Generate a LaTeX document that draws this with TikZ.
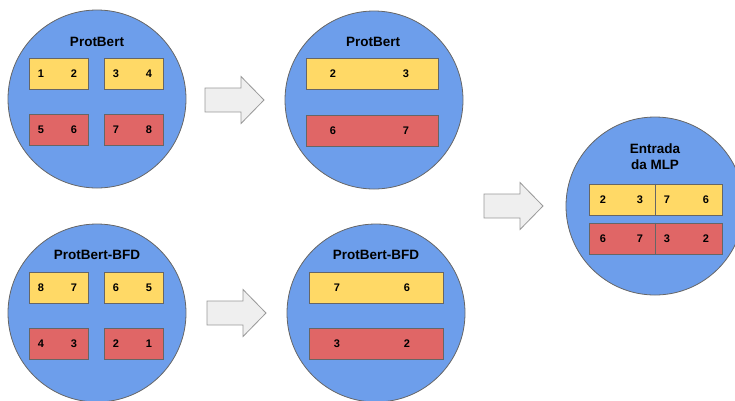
\documentclass[tikz,border=0pt]{standalone}
\usepackage{fontspec}
\setmainfont{Liberation Sans}
\definecolor{cblue}{HTML}{6D9EEB}
\definecolor{cyel}{HTML}{FFD966}
\definecolor{cred}{HTML}{E06666}
\definecolor{carrow}{HTML}{EFEFEF}
\definecolor{cedge}{HTML}{666666}
\begin{document}
\begin{tikzpicture}[x=1pt,y=-1pt,
  bubble/.style={circle,draw=cedge,line width=0.8pt,fill=cblue,minimum size=178pt,inner sep=0pt},
  ybox/.style={rectangle,draw=cedge,line width=0.9pt,fill=cyel,inner sep=0pt},
  rbox/.style={rectangle,draw=cedge,line width=0.9pt,fill=cred,inner sep=0pt},
  smallbox/.style={minimum width=59pt,minimum height=31pt},
  title/.style={font=\bfseries\fontsize{13.5}{16}\selectfont,inner sep=0pt,align=center},
  num/.style={font=\bfseries\fontsize{11}{12}\selectfont,inner sep=0pt},
  bigarrow/.pic={\draw[draw=gray!80,fill=carrow,line width=0.8pt] (0,-12) -- (36,-12) -- (36,-23.5) -- (59,0) -- (36,23.5) -- (36,12) -- (0,12) -- cycle;}
]
\useasboundingbox (0,0) rectangle (735,400);
% ---- circle 1
\node[bubble] (c1) at (97,99) {};
\node[title] (t1) at (97,42) {ProtBert};
\node[ybox,smallbox] (y11) at (58.5,73.5) {};
\node[ybox,smallbox] (y12) at (133.5,73.5) {};
\node[rbox,smallbox] (r11) at (58.5,129.5) {};
\node[rbox,smallbox] (r12) at (133.5,129.5) {};
\node[num] at (41,74) {1};\node[num] at (74,74) {2};
\node[num] at (116,74) {3};\node[num] at (149,74) {4};
\node[num] at (41,130) {5};\node[num] at (74,130) {6};
\node[num] at (116,130) {7};\node[num] at (149,130) {8};
% ---- circle 2
\node[bubble] (c2) at (374,100) {};
\node[title] (t2) at (373,42) {ProtBert};
\node[ybox,minimum width=132pt,minimum height=31pt] (y2) at (372,73.5) {};
\node[rbox,minimum width=132pt,minimum height=31pt] (r2) at (372,130.5) {};
\node[num] at (333,74) {2};\node[num] at (406,74) {3};
\node[num] at (333,131) {6};\node[num] at (406,131) {7};
% ---- circle 3
\node[bubble] (c3) at (97,313) {};
\node[title] (t3) at (97,255) {ProtBert-BFD};
\node[ybox,smallbox] (y31) at (58.5,287.5) {};
\node[ybox,smallbox] (y32) at (133.5,287.5) {};
\node[rbox,smallbox] (r31) at (58.5,343.5) {};
\node[rbox,smallbox] (r32) at (133.5,343.5) {};
\node[num] at (41,288) {8};\node[num] at (74,288) {7};
\node[num] at (116,288) {6};\node[num] at (149,288) {5};
\node[num] at (41,344) {4};\node[num] at (74,344) {3};
\node[num] at (116,344) {2};\node[num] at (149,344) {1};
% ---- circle 4
\node[bubble] (c4) at (376,313) {};
\node[title] (t4) at (376,255) {ProtBert-BFD};
\node[ybox,minimum width=134pt,minimum height=31pt] (y4) at (376,287.5) {};
\node[rbox,minimum width=134pt,minimum height=31pt] (r4) at (376,343.5) {};
\node[num] at (337,288) {7};\node[num] at (407,288) {6};
\node[num] at (337,344) {3};\node[num] at (407,344) {2};
% ---- circle 5
\node[bubble] (c5) at (655,206) {};
\node[title] (t5) at (655,157) {Entrada\\da MLP};
\node[ybox,minimum width=133pt,minimum height=31pt] (y5) at (655.5,199.5) {};
\node[rbox,minimum width=133pt,minimum height=31pt] (r5) at (655.5,238.5) {};
\draw[cedge,line width=0.9pt] (y5.north) -- (y5.south);
\draw[cedge,line width=0.9pt] (r5.north) -- (r5.south);
\node[num] at (603,200) {2};\node[num] at (640,200) {3};
\node[num] at (667,200) {7};\node[num] at (706,200) {6};
\node[num] at (603,239) {6};\node[num] at (640,239) {7};
\node[num] at (667,239) {3};\node[num] at (706,239) {2};
% ---- arrows
\pic at (205,100) {bigarrow};
\pic at (207,313) {bigarrow};
\pic at (484,206) {bigarrow};
\end{tikzpicture}
\end{document}
